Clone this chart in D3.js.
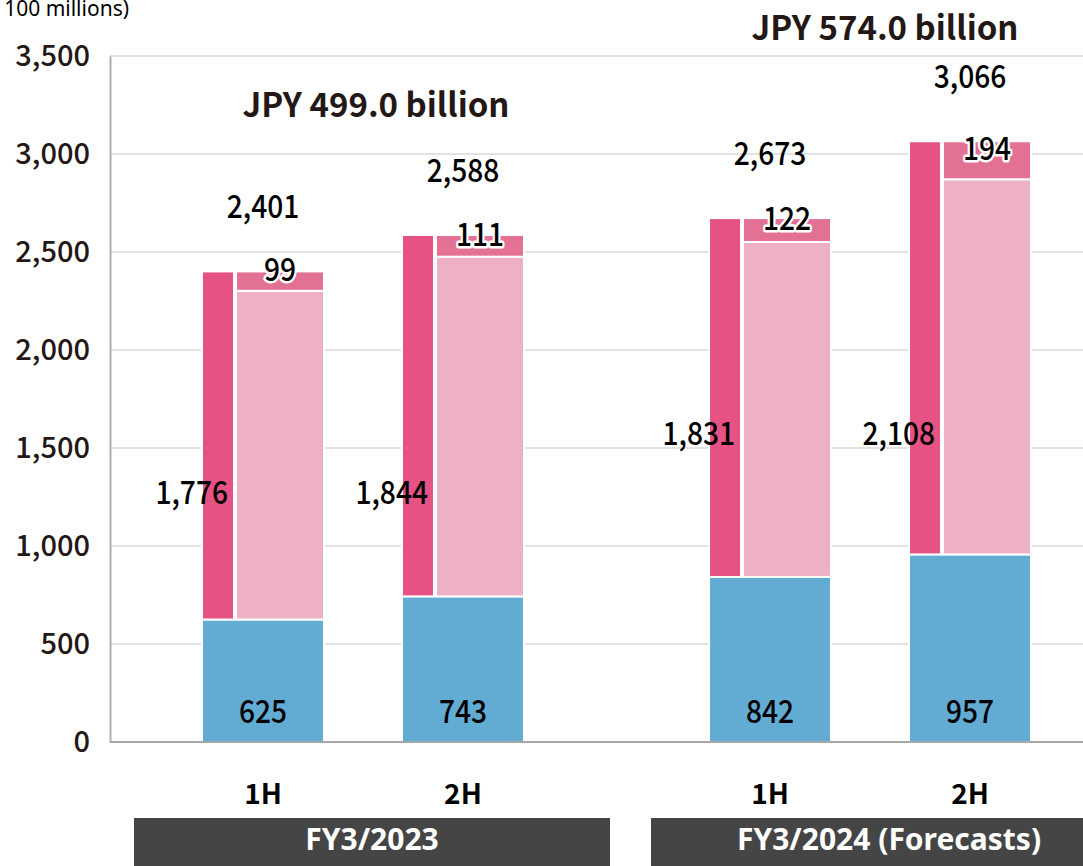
<!DOCTYPE html>
<html lang="en">
<head>
<meta charset="utf-8">
<title>Sales by half</title>
<script src="https://d3js.org/d3.v7.min.js"></script>
<style>
  body { margin: 0; background: #fff; }
  svg text { font-family: "Noto Sans CJK JP", "Noto Sans", sans-serif; }
</style>
</head>
<body>
<div id="chart"></div>
<script>
// values in JPY 100 millions
var groups = ["FY3/2023", "FY3/2024 (Forecasts)"];
var halves = ["1H", "2H"];
var headline = ["JPY 499.0 billion", "JPY 574.0 billion"];
var baseValues = [625, 743, 842, 957];        // blue segment
var pinkValues = [1776, 1844, 1831, 2108];    // pink column
var topValues = [99, 111, 122, 194];          // top part of pink
var totals = [2401, 2588, 2673, 3066];
var yTicks = [0, 500, 1000, 1500, 2000, 2500, 3000, 3500];

var width = 1083, height = 866;
var svg = d3.select("#chart").append("svg")
  .attr("width", width).attr("height", height);

var y = d3.scaleLinear().domain([0, 3500]).range([742, 56]);

var x0 = d3.scaleBand().domain(groups).range([202, 1031]).paddingInner(0.365);
var x1 = d3.scaleBand().domain(halves).range([0, x0.bandwidth()]).paddingInner(0.39);
var boxX = d3.scaleBand().domain(groups).range([134, 1127]).paddingInner(41 / 517);

var bars = [];
groups.forEach(function(g, gi) {
  halves.forEach(function(h, hi) {
    var i = gi * 2 + hi;
    bars.push({g: g, h: h, i: i, x: x0(g) + x1(h),
      base: baseValues[i], pink: pinkValues[i], top: topValues[i], total: totals[i]});
  });
});
var bw = x1.bandwidth();
var colW = 32;
var fmt = d3.format(",");

// gridlines
svg.append("g").selectAll("line").data(yTicks.slice(1)).join("line")
  .attr("x1", 110).attr("x2", width)
  .attr("y1", d => y(d)).attr("y2", d => y(d))
  .attr("stroke", "#e2e2e2").attr("stroke-width", 2);

// y axis
var yAxis = svg.append("g").attr("transform", "translate(110,0)")
  .call(d3.axisLeft(y).tickValues(yTicks).tickFormat(fmt).tickSize(0).tickPadding(20));
yAxis.select(".domain").attr("stroke", "#b0b0b0").attr("stroke-width", 2);
yAxis.selectAll("text").attr("font-size", 29).attr("font-weight", 500).attr("fill", "#231815")
  .attr("font-family", "'Noto Sans CJK JP', sans-serif");

// bars
var bg = svg.append("g").attr("stroke", "#fff").attr("stroke-width", 2);
bg.selectAll(".base").data(bars).join("rect")
  .attr("x", d => d.x).attr("width", bw)
  .attr("y", d => y(d.base)).attr("height", d => y(0) - y(d.base))
  .attr("fill", "#62acd4");
bg.selectAll(".pinkcol").data(bars).join("rect")
  .attr("x", d => d.x).attr("width", colW)
  .attr("y", d => y(d.base + d.pink)).attr("height", d => y(d.base) - y(d.base + d.pink))
  .attr("fill", "#e75284");
bg.selectAll(".light").data(bars).join("rect")
  .attr("x", d => d.x + colW + 2).attr("width", bw - colW - 2)
  .attr("y", d => y(d.base + d.pink - d.top)).attr("height", d => y(d.base) - y(d.base + d.pink - d.top))
  .attr("fill", "#edb0c5");
bg.selectAll(".topseg").data(bars).join("rect")
  .attr("x", d => d.x + colW + 2).attr("width", bw - colW - 2)
  .attr("y", d => y(d.base + d.pink)).attr("height", d => y(d.base + d.pink - d.top) - y(d.base + d.pink))
  .attr("fill", "#e27193");

// x axis line
svg.append("line").attr("x1", 110).attr("x2", width).attr("y1", y(0)).attr("y2", y(0))
  .attr("stroke", "#a8a8a8").attr("stroke-width", 2);

// data labels: slightly condensed, tall digits
function numLabel(sel, xf, yf, anchor) {
  return sel.attr("transform", d => "translate(" + xf(d) + "," + yf(d) + ") scale(0.88,1)")
    .attr("text-anchor", anchor).attr("font-size", 32).attr("font-weight", 500).attr("fill", "#000");
}
var lab = svg.append("g");
numLabel(lab.selectAll(".bl").data(bars).join("text"), d => d.x + bw / 2, d => 723, "middle")
  .text(d => fmt(d.base));
numLabel(lab.selectAll(".tl").data(bars).join("text"), d => d.x + bw / 2, d => y(d.total) - 53, "middle")
  .text(d => fmt(d.total));
// pink labels sit at a common height in each fiscal year
var pinkLabelAt = [1270, 1270, 1570, 1570];
numLabel(lab.selectAll(".pl").data(bars).join("text"), d => d.x + colW - 6, d => y(pinkLabelAt[d.i]) + 11, "end")
  .text(d => fmt(d.pink));
numLabel(lab.selectAll(".sl").data(bars).join("text"),
    d => d.x + colW + 2 + (bw - colW - 2) / 2, d => y(d.base + d.pink - d.top / 2), "middle")
  .attr("stroke", "#fff").attr("stroke-width", 5).attr("paint-order", "stroke")
  .attr("stroke-linejoin", "round")
  .text(d => fmt(d.top));

// headlines
svg.selectAll(".hd").data(groups).join("text")
  .attr("x", (d, i) => i === 0 ? 376 : 885).attr("y", (d, i) => i === 0 ? 117 : 40)
  .attr("text-anchor", "middle").attr("font-size", 33).attr("font-weight", 700)
  .attr("fill", "#231815")
  .text((d, i) => headline[i]);

// half labels
svg.selectAll(".hl").data(bars).join("text")
  .attr("x", d => d.x + bw / 2).attr("y", 804).attr("text-anchor", "middle")
  .attr("font-size", 28).attr("font-weight", 700).attr("fill", "#000")
  .text(d => d.h);

// fiscal year boxes
svg.selectAll(".box").data(groups).join("rect")
  .attr("x", d => boxX(d)).attr("width", boxX.bandwidth())
  .attr("y", 818).attr("height", 48).attr("fill", "#454545");
svg.selectAll(".bt").data(groups).join("text")
  .attr("x", d => boxX(d) + boxX.bandwidth() / 2).attr("y", 850)
  .attr("text-anchor", "middle").attr("font-size", 30).attr("font-weight", 700)
  .attr("fill", "#fff").style("font-family", "'Noto Sans', sans-serif")
  .text(d => d);

// unit
svg.append("text").attr("x", 129).attr("y", 16).attr("text-anchor", "end")
  .attr("font-size", 21).style("font-family", "'Noto Sans', sans-serif")
  .text("(Unit: JPY 100 millions)");
</script>
</body>
</html>
